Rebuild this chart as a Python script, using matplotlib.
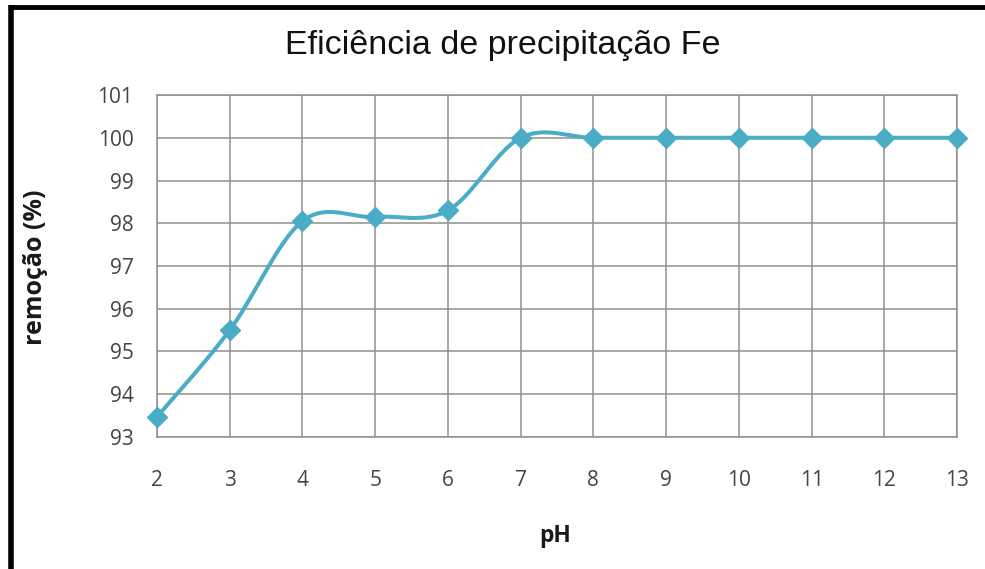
import numpy as np
import matplotlib
matplotlib.use("Agg")
import matplotlib.pyplot as plt
from matplotlib.lines import Line2D

# pH values and iron removal (%)
ph = [2, 3, 4, 5, 6, 7, 8, 9, 10, 11, 12, 13]
removal = [93.47, 95.5, 98.05, 98.15, 98.3, 100.0, 100.0, 100.0, 100.0, 100.0, 100.0, 100.0]
y_ticks = [93, 94, 95, 96, 97, 98, 99, 100, 101]

LINE_COLOR = "#4BACC6"


def smooth_curve(x, y, n=40):
    """Cubic Bezier through the points, Catmull-Rom style tangents."""
    pts = np.column_stack([x, y]).astype(float)
    out = []
    for i in range(len(pts) - 1):
        p0 = pts[i - 1] if i > 0 else pts[i]
        p1 = pts[i]
        p2 = pts[i + 1]
        p3 = pts[i + 2] if i + 2 < len(pts) else pts[i + 1]
        c1 = p1 + (p2 - p0) / 6.0
        c2 = p2 - (p3 - p1) / 6.0
        t = np.linspace(0, 1, n)[:, None]
        seg = ((1 - t) ** 3) * p1 + 3 * ((1 - t) ** 2) * t * c1 \
            + 3 * (1 - t) * t ** 2 * c2 + t ** 3 * p2
        out.append(seg if i == 0 else seg[1:])
    seg = np.vstack(out)
    return seg[:, 0], seg[:, 1]


fig = plt.figure(figsize=(9.85, 5.69), dpi=100)
ax = fig.add_axes([0.1594, 0.232, 0.8122, 0.601])

sx, sy = smooth_curve(ph, removal)
ax.plot(sx, sy, color=LINE_COLOR, lw=2.9, solid_capstyle="round", zorder=3)
ax.plot(ph, removal, linestyle="none", marker="D", markersize=10,
        color=LINE_COLOR, zorder=4, clip_on=False)

ax.set_xlim(ph[0], ph[-1])
ax.set_ylim(y_ticks[0], y_ticks[-1])
ax.set_xticks(ph)
ax.set_yticks(y_ticks)

ax.grid(True, color="#909090", lw=1.1)
ax.set_axisbelow(True)
for side in ax.spines.values():
    side.set_color("#909090")
    side.set_linewidth(1.1)

ax.tick_params(length=0, labelsize=15, labelcolor="#444444")
ax.tick_params(axis="x", pad=24)
ax.tick_params(axis="y", pad=17)
for lbl in ax.get_xticklabels() + ax.get_yticklabels():
    lbl.set_fontfamily("Open Sans")

fig.text(0.51, 0.92, "Eficiência de precipitação Fe", ha="center", va="center",
         fontsize=24.5, fontfamily="Liberation Sans", color="#111111")
fig.text(0.564, 0.058, "pH", ha="center", va="center", fontsize=16.5,
         fontweight="bold", fontfamily="Open Sans", color="#1a1a1a")
fig.text(0.036, 0.531, "remoção (%)", ha="center", va="center", rotation=90,
         fontsize=18, fontweight="bold", fontfamily="Open Sans", color="#1a1a1a")

# heavy black frame along the left and top edges
fig.add_artist(Line2D([0.0107, 0.0107], [0, 0.992], transform=fig.transFigure,
                      color="black", lw=4.0, solid_capstyle="butt"))
fig.add_artist(Line2D([0.0087, 1.0], [0.988, 0.988], transform=fig.transFigure,
                      color="black", lw=3.5, solid_capstyle="butt"))

fig.savefig("out.png", dpi=100)
